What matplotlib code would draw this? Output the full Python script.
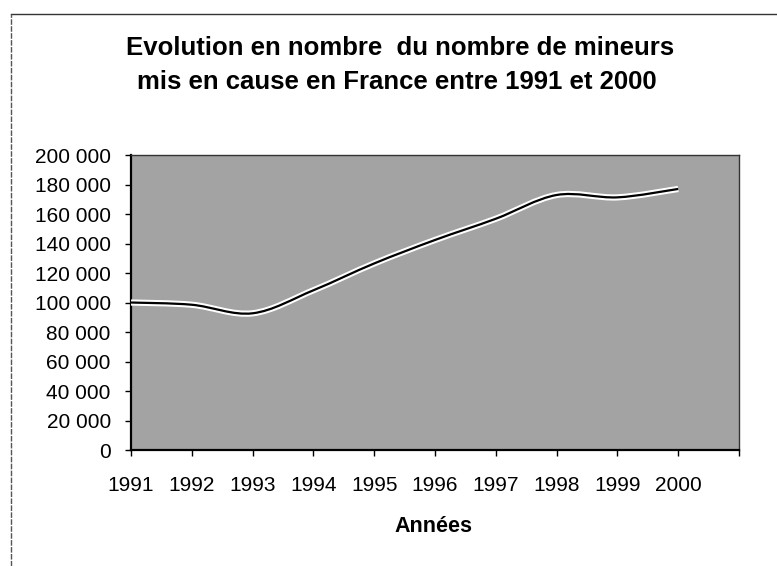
import matplotlib.pyplot as plt
from matplotlib.path import Path
from matplotlib.patches import PathPatch
from matplotlib.lines import Line2D

plt.rcParams['font.family'] = ['Liberation Sans', 'DejaVu Sans']

# données
annees = ['1991', '1992', '1993', '1994', '1995', '1996', '1997', '1998', '1999', '2000']
mineurs = [100000, 98500, 92700, 108300, 126500, 142400, 156800, 172900, 171300, 177000]
yticks = [0, 20000, 40000, 60000, 80000, 100000, 120000, 140000, 160000, 180000, 200000]
ylabels = ['{:,}'.format(v).replace(',', ' ') for v in yticks]

fig = plt.figure(figsize=(7.77, 5.66), dpi=100)
ax = fig.add_axes([0.1686, 0.2049, 0.7825, 0.5212])
ax.set_facecolor('#a3a3a3')

x = list(range(len(mineurs)))
pts = list(zip(x, mineurs))

# courbe lissée (bezier type excel) passant par les points
verts = [pts[0]]
codes = [Path.MOVETO]
n = len(pts)
for i in range(n - 1):
    p0 = pts[i - 1] if i > 0 else pts[i]
    p1 = pts[i]
    p2 = pts[i + 1]
    p3 = pts[i + 2] if i + 2 < n else pts[i + 1]
    c1 = (p1[0] + (p2[0] - p0[0]) / 6, p1[1] + (p2[1] - p0[1]) / 6)
    c2 = (p2[0] - (p3[0] - p1[0]) / 6, p2[1] - (p3[1] - p1[1]) / 6)
    verts += [c1, c2, p2]
    codes += [Path.CURVE4] * 3
path = Path(verts, codes)
ax.add_patch(PathPatch(path, fill=False, edgecolor='white', lw=4.5, zorder=3))
ax.add_patch(PathPatch(path, fill=False, edgecolor='black', lw=1.6, zorder=4))

ax.set_xlim(0, 10)
ax.set_ylim(0, 200000)
ax.set_xticks(range(11))
ax.set_xticklabels(annees + [''])
ax.set_yticks(yticks)
ax.set_yticklabels(ylabels)
ax.tick_params(axis='both', direction='out', length=4.5, width=1, labelsize=15, colors='black')
ax.tick_params(axis='y', pad=10)
ax.tick_params(axis='x', pad=14)

for s in ['left', 'bottom']:
    ax.spines[s].set_linewidth(1.6)
for s in ['top', 'right']:
    ax.spines[s].set_linewidth(1)
    ax.spines[s].set_color('#333333')

fig.text(400 / 777, 1 - 55 / 566, 'Evolution en nombre  du nombre de mineurs',
         ha='center', va='baseline', fontsize=18.5, fontweight='bold')
fig.text(397 / 777, 1 - 89 / 566, 'mis en cause en France entre 1991 et 2000',
         ha='center', va='baseline', fontsize=18.5, fontweight='bold')
fig.text(433 / 777, 1 - 532 / 566, 'Années', ha='center', va='baseline',
         fontsize=15.5, fontweight='bold')

# cadre du graphique
fig.add_artist(Line2D([11 / 777, 1], [1 - 14 / 566, 1 - 14 / 566], color='#333333', lw=1))
fig.add_artist(Line2D([11 / 777, 11 / 777], [0, 1 - 14 / 566], color='#555555', lw=1, ls=(0, (4, 1))))

fig.savefig('out.png', dpi=100)
